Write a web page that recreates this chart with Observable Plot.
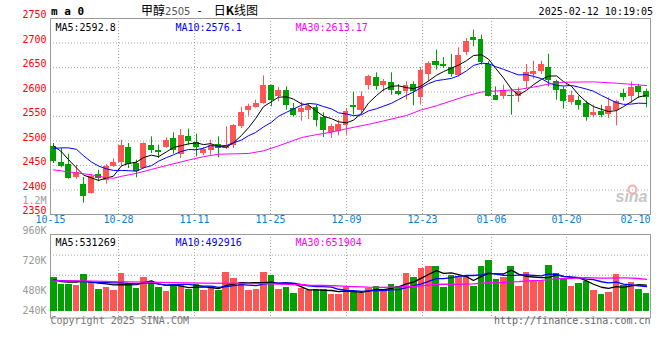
<!DOCTYPE html>
<html><head><meta charset="utf-8">
<script src="https://cdn.jsdelivr.net/npm/d3@7"></script>
<script src="https://cdn.jsdelivr.net/npm/@observablehq/plot@0.6"></script>
<style>
body{margin:0;background:#fff;}
#wrap{position:relative;width:660px;height:360px;overflow:hidden;background:#fff;}
#wrap svg{position:absolute;left:0;top:0;}
.t{position:absolute;white-space:nowrap;color:#000;}
</style></head><body>
<div id="wrap">
  <div class="t" style="left:51px;top:5px;font:bold 11px 'DejaVu Sans Mono';line-height:13px;">m a 0</div>
  <div class="t" style="left:141px;top:2px;font:12px 'Noto Sans CJK SC';line-height:16px;">甲醇<span style="font:10px 'DejaVu Sans';color:#555;">2505</span><span style="margin:0 12px 0 7px;">-</span>日<b>K</b>线图</div>
  <div class="t" style="right:7px;top:5px;font:10px 'DejaVu Sans Mono';line-height:13px;">2025-02-12 10:19:05</div>
</div>
<script>
// ---------- data ----------
const dateLabels = ["10-15","10-28","11-11","11-25","12-09","12-23","01-06","01-20","02-10"];
const dateIdx = [0, 9, 19, 29, 39, 49, 58, 68, 77];

const open = [2489.5,2456.8,2452.7,2424.8,2411.9,2392.2,2432.3,2418.7,2447.3,2456.1,2487.4,2454.1,2443.2,2491.5,2481.3,2486.0,2505.1,2472.4,2508.5,2497.6,2474.5,2480.0,2493.5,2484.7,2491.5,2528.9,2561.6,2568.4,2576.5,2614.0,2590.1,2603.7,2566.3,2557.5,2561.6,2568.4,2548.0,2517.3,2518.7,2532.0,2573.1,2562.9,2614.0,2629.6,2614.0,2618.7,2601.7,2601.7,2615.3,2588.1,2635.7,2662.9,2656.8,2650.0,2634.4,2679.9,2711.9,2707.8,2656.1,2593.5,2591.5,2593.5,2590.1,2620.7,2636.4,2641.2,2650.0,2622.1,2605.8,2578.6,2583.3,2576.5,2551.4,2561.0,2554.8,2562.9,2596.9,2590.1,2611.9,2601.7];
const high = [2494.9,2484.7,2473.1,2450.7,2425.5,2431.6,2440.5,2452.0,2463.6,2501.7,2494.9,2460.9,2496.0,2508.5,2491.5,2506.5,2516.7,2523.5,2524.2,2514.0,2487.0,2501.7,2508.5,2528.9,2533.7,2568.4,2575.2,2583.3,2633.0,2614.0,2609.2,2610.5,2576.5,2578.6,2576.5,2573.1,2557.5,2534.4,2542.5,2566.0,2599.7,2600.3,2634.4,2639.1,2625.5,2639.1,2615.3,2620.7,2620.7,2650.0,2661.6,2685.4,2670.4,2676.5,2690.1,2709.2,2726.2,2716.0,2661.6,2610.5,2614.0,2606.0,2608.5,2656.1,2662.9,2662.9,2677.2,2624.1,2610.5,2601.7,2591.5,2581.3,2573.1,2573.1,2588.1,2583.3,2605.8,2620.7,2615.3,2605.8];
const low = [2454.0,2445.2,2422.1,2422.0,2373.1,2392.0,2416.7,2411.9,2446.0,2447.3,2443.9,2424.8,2442.0,2474.5,2464.3,2485.0,2473.1,2464.3,2491.5,2467.7,2470.0,2471.0,2465.6,2483.0,2484.7,2525.5,2550.7,2567.0,2575.2,2569.7,2579.9,2563.0,2549.3,2540.5,2543.9,2528.9,2507.1,2505.1,2510.5,2512.0,2552.7,2552.7,2603.7,2603.7,2600.3,2593.5,2592.2,2583.3,2571.8,2573.1,2620.7,2644.6,2648.0,2630.3,2631.0,2673.8,2692.2,2654.8,2590.1,2583.3,2584.7,2552.7,2578.6,2607.1,2626.2,2635.7,2610.5,2583.3,2565.0,2573.1,2563.0,2540.5,2547.3,2547.3,2545.9,2531.0,2581.3,2576.5,2586.7,2567.7];
const close = [2457.5,2448.6,2424.1,2436.4,2386.0,2428.2,2423.5,2448.6,2455.4,2491.5,2452.0,2437.1,2494.9,2479.9,2475.9,2501.7,2481.3,2511.9,2499.7,2487.4,2482.7,2491.5,2484.0,2491.5,2532.3,2557.5,2569.7,2576.5,2614.0,2583.3,2603.7,2573.1,2552.7,2566.3,2569.7,2542.5,2520.7,2528.9,2533.7,2560.0,2569.0,2591.5,2632.3,2610.5,2620.7,2603.7,2595.6,2614.0,2600.3,2644.6,2658.2,2653.4,2651.4,2635.7,2675.2,2703.7,2705.8,2659.5,2591.5,2583.3,2603.0,2590.8,2600.3,2639.8,2641.2,2656.8,2622.8,2603.7,2581.3,2593.5,2571.8,2547.3,2557.5,2552.7,2571.1,2581.3,2588.1,2609.2,2599.0,2588.8];
const volume = [684000,548000,548000,522000,745000,589000,441000,481000,420000,771000,562000,461000,684000,597000,481000,400000,516000,542000,447000,542000,420000,455000,420000,786000,664000,583000,420000,441000,786000,725000,441000,481000,359000,467000,420000,434000,441000,339000,339000,475000,394000,365000,461000,508000,447000,542000,508000,765000,684000,867000,907000,907000,481000,731000,698000,698000,508000,907000,1029000,650000,684000,907000,501000,786000,597000,609000,928000,765000,644000,508000,562000,597000,426000,339000,386000,745000,528000,583000,441000,359000];

const ma5 = [2490,2478,2462,2445,2430.5,2424.7,2419.6,2424.5,2428.3,2449.4,2454.2,2456.9,2466.2,2471.1,2468.0,2477.9,2486.7,2490.1,2494.1,2496.4,2492.6,2494.6,2489.1,2487.4,2496.4,2511.4,2527.0,2545.5,2570.0,2580.2,2589.4,2590.1,2585.4,2575.8,2573.1,2560.9,2550.4,2545.6,2539.1,2537.2,2542.5,2556.6,2577.3,2592.7,2604.8,2611.7,2612.6,2608.9,2606.9,2611.6,2622.5,2634.1,2641.6,2648.7,2654.8,2663.9,2674.4,2676.0,2667.1,2648.8,2628.6,2605.6,2593.8,2603.4,2615.0,2625.8,2632.2,2632.9,2621.2,2611.6,2594.6,2579.5,2570.3,2564.6,2560.1,2562.0,2570.1,2580.5,2589.7,2593.3];
const ma10 = [2485,2486,2486,2483,2470,2457,2449,2443,2440,2440.0,2439.4,2438.3,2445.4,2449.7,2458.7,2466.1,2471.8,2478.2,2482.6,2482.2,2485.3,2490.7,2489.6,2490.8,2496.4,2502.0,2510.8,2517.3,2528.7,2538.3,2550.4,2558.6,2565.4,2572.9,2576.7,2575.2,2570.3,2565.5,2557.5,2555.1,2551.7,2553.5,2561.5,2565.9,2571.0,2577.1,2584.6,2593.1,2599.8,2608.2,2617.1,2623.3,2625.2,2627.8,2633.2,2643.2,2654.2,2658.8,2657.9,2651.8,2646.3,2640.0,2634.9,2635.3,2631.9,2627.2,2618.9,2613.3,2612.3,2613.3,2610.2,2605.9,2601.6,2592.9,2585.9,2578.3,2574.8,2575.4,2577.2,2576.7];
const ma30 = [2441,2439,null,2435,null,2431,null,2425,2424,2428,null,2434,null,2442,null,2450,null,null,2461,null,2468,null,2473,null,null,null,2474.5,null,2480,null,2490,null,null,2507,null,2513,null,2518,null,2525,null,null,2534,null,2541,null,null,2552,null,2563,null,2572,null,2582,null,2592,null,2600,null,2602,null,null,2605,null,2610,null,2616,null,2620,null,null,null,2620.6,null,null,2618,null,null,null,2613.2];

const volMa5 = [640000,600000,590000,590000,609000,590000,569000,556000,535000,540000,535000,539000,580000,615000,557000,525000,536000,507000,477000,489000,493000,481000,457000,525000,549000,582000,575000,579000,579000,591000,563000,575000,558000,495000,434000,432000,424000,420000,395000,406000,398000,382000,407000,441000,435000,465000,493000,554000,589000,673000,746000,826000,769000,779000,745000,703000,623000,708000,768000,758000,756000,835000,754000,706000,695000,680000,684000,737000,709000,691000,681000,615000,547000,486000,462000,499000,485000,516000,537000,531000];
const volMa10 = [625000,620000,615000,610000,600000,592000,585000,580000,576000,575000,563000,554000,568000,575000,549000,530000,537000,543000,546000,523000,509000,508000,482000,501000,519000,538000,528000,518000,552000,570000,572000,575000,569000,537000,512000,497000,500000,489000,445000,420000,415000,403000,414000,418000,420000,431000,438000,480000,515000,554000,605000,660000,662000,684000,709000,725000,725000,739000,773000,752000,729000,729000,731000,737000,727000,718000,760000,746000,707000,693000,681000,650000,642000,598000,576000,590000,550000,532000,512000,497000];
const volMa30 = [615000,null,null,null,615000,null,null,null,600000,null,null,null,590000,null,null,null,580000,null,null,null,572000,null,null,null,565000,null,null,null,558000,556000,548000,546000,539000,538000,527000,522000,522000,517000,514000,504000,499000,495000,488000,485000,484000,489000,488000,496000,504000,515000,531000,546000,548000,546000,547000,551000,554000,570000,578000,575000,583000,597000,602000,613000,619000,625000,641000,655000,665000,666000,672000,680000,678000,673000,671000,677000,678000,672000,664000,647000];

const priceTicks = [2350,2400,2450,2500,2550,2600,2650,2700,2750];
const priceTickLabels = ["2350","2400","2450","2500","2550","2600","2650","2700","2750"];
const volTicks = [240000,480000,720000,960000,1200000];
const volTickLabels = ["240K","480K","720K","960K","1.2M"];
const volGrid = [325000,730000,1140000];
const priceLegend = ["MA5:2592.8","MA10:2576.1","MA30:2613.17"];
const volLegend = ["MA5:531269","MA10:492916","MA30:651904"];
const footer = ["Copyright 2025 SINA.COM","http://finance.sina.com.cn"];

// ---------- styles ----------
const mono = "'DejaVu Sans Mono', monospace";
const RED = "#ff5555", GREEN = "#00a000";
const GRID = "#a8a8a8", FRAME = "#9a9a9a", DATEC = "#0a7dd6";
const maColors = ["#000000", "#0000ff", "#ff00ff"];
const legendDx = [5, 125, 245];
const baseStyle = {background: "transparent", fontFamily: mono, fontSize: "10px", overflow: "visible"};

const idx = d3.range(close.length);
const candles = idx.map(i => ({i, o: open[i], h: high[i], l: low[i], c: close[i], v: volume[i],
  col: close[i] >= open[i] ? RED : GREEN}));
const gridIdx = dateIdx.filter(d => d > 0 && d < 75);
const gx = d => d * 80 / 79;   // Sina places date grid on a 79-step grid
const series = arr => idx.filter(i => arr[i] != null);
const xScale = {domain: [0, 80], range: [50, 650], round: true, axis: null};

const priceMAs = [ma5, ma10, ma30];
const volMAs = [volMa5, volMa10, volMa30];

const pricePlot = Plot.plot({
  width: 660, height: 360,
  marginLeft: 50, marginRight: 10, marginTop: 18, marginBottom: 146,
  style: baseStyle,
  x: xScale,
  y: {domain: [2350, 2750], range: [214, 18], axis: null},
  marks: [
    Plot.ruleY(priceTicks.slice(1, -1), {stroke: GRID, strokeDasharray: "1,2"}),
    Plot.ruleX(gridIdx, {x: gx, stroke: GRID, strokeDasharray: "1,2"}),
    Plot.frame({stroke: FRAME}),
    Plot.text(["sina"], {frameAnchor: "bottom-right", dx: -3, dy: -13, textAnchor: "end",
      fontFamily: "'Liberation Sans', sans-serif", fontStyle: "italic", fontWeight: "bold", fontSize: 16, fill: "#c6c6c6"}),
    Plot.dot([0], {frameAnchor: "bottom-right", dx: -18, dy: -25, r: 4, stroke: "#f3b0b0", strokeWidth: 2, fill: "none"}),
    Plot.ruleX(candles, {x: d => d.i + 0.4, y1: "l", y2: "h", stroke: "col"}),
    Plot.rect(candles, {x1: "i", x2: d => d.i + 0.8, y1: "o", y2: "c", fill: "col", shapeRendering: "crispEdges"}),
    ...priceMAs.map((arr, k) => Plot.line(series(arr), {x: i => i + 0.4, y: i => arr[i], stroke: maColors[k], strokeWidth: 1})),
    Plot.text(priceTicks, {y: d => d, text: (d, i) => priceTickLabels[i], frameAnchor: "left", textAnchor: "end", dx: -4, dy: -3.5, fill: "#ff0000"}),
    Plot.text(dateIdx, {x: gx, text: (d, i) => dateLabels[i], frameAnchor: "bottom", dy: 8.6, fill: DATEC}),
    ...priceLegend.map((t, k) => Plot.text([t], {frameAnchor: "top-left", textAnchor: "start", dx: legendDx[k], dy: 5.3, fill: maColors[k]}))
  ]
});

const volPlot = Plot.plot({
  width: 660, height: 360,
  marginLeft: 50, marginRight: 10, marginTop: 234, marginBottom: 42.5,
  style: baseStyle,
  x: xScale,
  y: {domain: [-140000, 1560000], range: [317.5, 234], axis: null},
  marks: [
    Plot.ruleY(volGrid, {stroke: GRID, strokeDasharray: "1,2"}),
    Plot.ruleX(gridIdx, {x: gx, stroke: GRID, strokeDasharray: "1,2"}),
    Plot.frame({stroke: FRAME}),
    Plot.rect(candles, {x1: "i", x2: d => d.i + 0.9, y1: 0, y2: "v", fill: "col", shapeRendering: "crispEdges"}),
    ...volMAs.map((arr, k) => Plot.line(series(arr), {x: i => i + 0.45, y: i => arr[i], stroke: maColors[k], strokeWidth: 1.3})),
    ...volLegend.map((t, k) => Plot.text([t], {frameAnchor: "top-left", textAnchor: "start", dx: legendDx[k], dy: 4.3, fill: maColors[k]})),
    Plot.text([footer[0]], {frameAnchor: "bottom-left", textAnchor: "start", dx: 0, dy: 5.8, fill: "#777"}),
    Plot.text([footer[1]], {frameAnchor: "bottom-right", textAnchor: "end", dx: 0, dy: 5.8, fill: "#666"})
  ]
});

// Sina's volume-axis labels sit on their own label scale (30px per 240K),
// with the lowest label pulled up to the bar base.
const volAxisPlot = Plot.plot({
  width: 660, height: 360,
  marginLeft: 50, marginRight: 10, marginTop: 200, marginBottom: 40,
  style: baseStyle,
  x: {domain: [0, 80], range: [50, 650], axis: null},
  y: {domain: [240000, 1200000], range: [320.3, 200.3], axis: null},
  marks: [
    Plot.text(volTicks.slice(1), {y: d => d, text: (d, i) => volTickLabels[i + 1], frameAnchor: "left", textAnchor: "end", dx: -4, fill: "#999"}),
    Plot.text(volTicks.slice(0, 1), {y: d => d, text: (d, i) => volTickLabels[i], frameAnchor: "left", textAnchor: "end", dx: -4, dy: -10, fill: "#999"})
  ]
});

const wrap = document.getElementById("wrap");
wrap.appendChild(pricePlot);
wrap.appendChild(volPlot);
wrap.appendChild(volAxisPlot);
</script>
</body></html>
